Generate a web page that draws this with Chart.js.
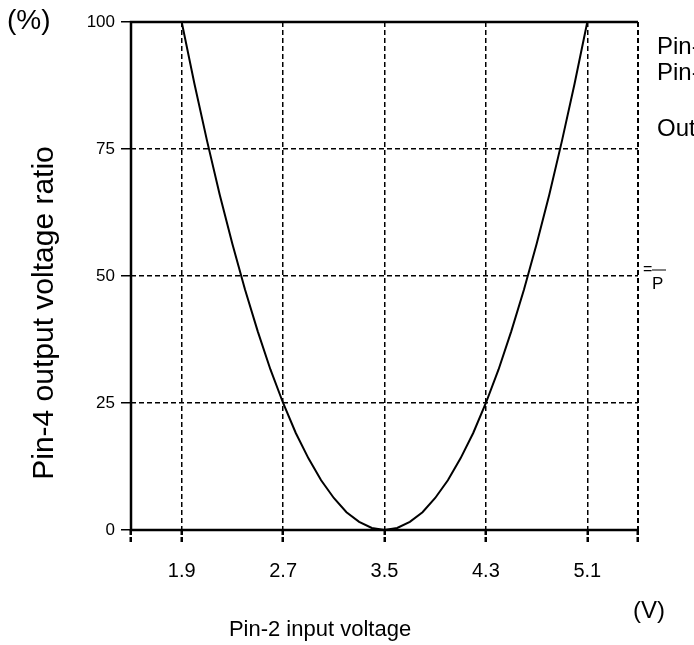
<!DOCTYPE html>
<html>
<head>
<meta charset="utf-8">
<script src="https://cdn.jsdelivr.net/npm/chart.js@4.4.0/dist/chart.umd.min.js"></script>
<style>
  html, body { margin: 0; padding: 0; background: #fff; }
  #wrap { width: 694px; height: 645px; position: relative; }
</style>
</head>
<body>
<div id="wrap"><canvas id="ratioChart"></canvas></div>
<script>
// data
const voltage = [1.9, 2.0, 2.1, 2.2, 2.3, 2.4, 2.5, 2.6, 2.7, 2.8, 2.9, 3.0, 3.1, 3.2, 3.3, 3.4, 3.5,
                 3.6, 3.7, 3.8, 3.9, 4.0, 4.1, 4.2, 4.3, 4.4, 4.5, 4.6, 4.7, 4.8, 4.9, 5.0, 5.1];
const ratio = [100, 87.9, 76.6, 66.0, 56.3, 47.3, 39.1, 31.6, 25.0, 19.1, 14.1, 9.8, 6.3, 3.5, 1.6, 0.4, 0,
               0.4, 1.6, 3.5, 6.3, 9.8, 14.1, 19.1, 25.0, 31.6, 39.1, 47.3, 56.3, 66.0, 76.6, 87.9, 100];
const xTicks = [1.5, 1.9, 2.7, 3.5, 4.3, 5.1, 5.5];
const xLabels = ['', '1.9', '2.7', '3.5', '4.3', '5.1', ''];
const yTicks = [0, 25, 50, 75, 100];

const FONT = "'Liberation Sans', Arial, Helvetica, sans-serif";

// frame + free text drawn on top
const decorations = {
  id: 'decorations',
  afterDraw(chart) {
    const { ctx, chartArea: a } = chart;
    ctx.save();
    ctx.strokeStyle = '#000';
    ctx.lineWidth = 2.5;
    ctx.beginPath();
    ctx.moveTo(a.right, a.top);
    ctx.lineTo(a.left, a.top);
    ctx.lineTo(a.left, a.bottom);
    ctx.lineTo(a.right, a.bottom);
    ctx.stroke();
    ctx.setLineDash([5, 3]);
    ctx.lineWidth = 2;
    ctx.beginPath();
    ctx.moveTo(a.right, a.top);
    ctx.lineTo(a.right, a.bottom);
    ctx.stroke();
    ctx.setLineDash([]);

    ctx.fillStyle = '#000';
    ctx.textBaseline = 'middle';
    ctx.textAlign = 'left';
    ctx.font = '28px ' + FONT;
    ctx.fillText('(%)', 7, 21);
    ctx.font = '24px ' + FONT;
    ctx.fillText('(V)', 633, 611);

    ctx.font = '22px ' + FONT;
    ctx.textAlign = 'center';
    ctx.fillText('Pin-2 input voltage', 320, 630);
    ctx.save();
    ctx.translate(45, 313);
    ctx.rotate(-Math.PI / 2);
    ctx.font = '30px ' + FONT;
    ctx.fillText('Pin-4 output voltage ratio', 0, 0);
    ctx.restore();

    ctx.font = '24px ' + FONT;
    ctx.textAlign = 'left';
    ctx.fillText('Pin-4 : output', 657, 47);
    ctx.fillText('Pin-2 : input', 657, 73);
    ctx.fillText('Output ratio', 657, 129);
    ctx.font = '16px ' + FONT;
    ctx.fillText('=', 643, 270);
    ctx.font = '17px ' + FONT;
    ctx.fillText('P', 652, 284);
    ctx.lineWidth = 1;
    ctx.beginPath();
    ctx.moveTo(652, 270);
    ctx.lineTo(666, 270);
    ctx.stroke();
    ctx.restore();
  }
};

new Chart(document.getElementById('ratioChart'), {
  type: 'line',
  data: {
    datasets: [{
      data: voltage.map((v, i) => ({ x: v, y: ratio[i] })),
      borderColor: '#000',
      borderWidth: 2,
      pointRadius: 0,
      tension: 0,
      fill: false
    }]
  },
  options: {
    responsive: true,
    maintainAspectRatio: false,
    animation: false,
    layout: { padding: { top: 22, right: 56, left: 0, bottom: 0 } },
    plugins: { legend: { display: false }, tooltip: { enabled: false } },
    scales: {
      x: {
        type: 'linear',
        min: 1.5,
        max: 5.5,
        afterBuildTicks: (scale) => { scale.ticks = xTicks.map(v => ({ value: v })); },
        afterFit: (scale) => { scale.height = 115; },
        ticks: {
          autoSkip: false,
          maxRotation: 0,
          padding: 17,
          color: '#000',
          font: { size: 20, family: FONT },
          callback: (v) => xLabels[xTicks.indexOf(v)]
        },
        grid: {
          color: (c) => (c.tick && (c.tick.value === 1.5 || c.tick.value === 5.5)) ? 'rgba(0,0,0,0)' : '#000',
          tickColor: '#000',
          lineWidth: 1.5,
          tickWidth: 2.5,
          tickLength: 12,
          tickBorderDash: [5, 2]
        },
        border: { display: false, dash: [5, 3] }
      },
      y: {
        min: 0,
        max: 100,
        afterBuildTicks: (scale) => { scale.ticks = yTicks.map(v => ({ value: v })); },
        afterFit: (scale) => { scale.width = 131; },
        ticks: {
          padding: 6,
          color: '#000',
          font: { size: 17, family: FONT }
        },
        grid: {
          color: (c) => (c.tick && (c.tick.value === 0 || c.tick.value === 100)) ? 'rgba(0,0,0,0)' : '#000',
          tickColor: '#000',
          lineWidth: 1.5,
          tickWidth: 1.5,
          tickLength: 10,
          tickBorderDash: []
        },
        border: { display: false, dash: [5, 3] }
      }
    }
  },
  plugins: [decorations]
});
</script>
</body>
</html>
